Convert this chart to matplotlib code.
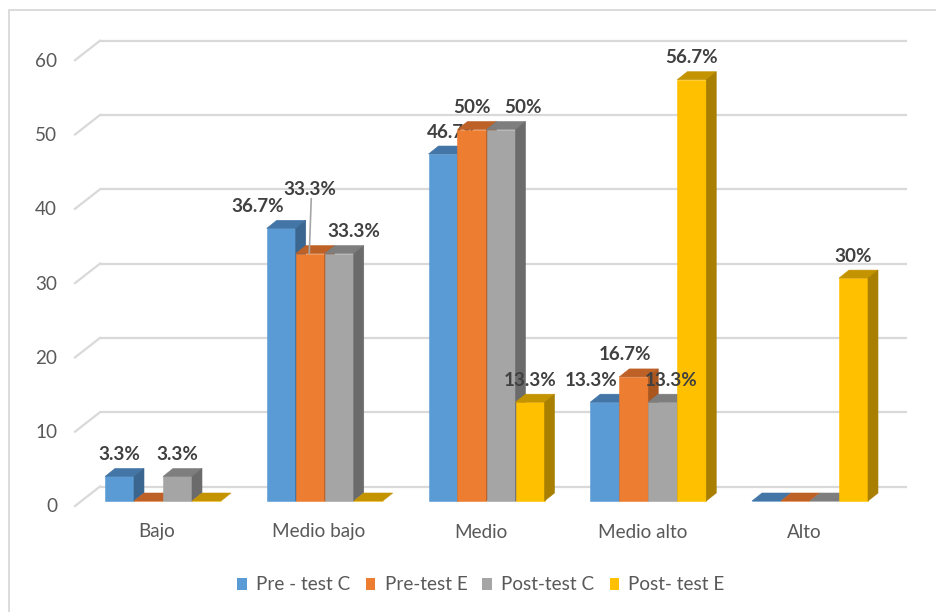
import matplotlib
matplotlib.use("Agg")
import matplotlib.pyplot as plt
import matplotlib.transforms as mtransforms
from matplotlib.patches import Polygon, Rectangle, Patch
import numpy as np

# ---------------- data ----------------
categories = ["Bajo", "Medio bajo", "Medio", "Medio alto", "Alto"]
series_names = ["Pre - test C", "Pre-test E", "Post-test C", "Post- test E"]
pre_test_c = [3.3, 36.7, 46.7, 13.3, 0]
pre_test_e = [0, 33.3, 50, 16.7, 0]
post_test_c = [3.3, 33.3, 50, 13.3, 0]
post_test_e = [0, 0, 13.3, 56.7, 30]
series_values = [pre_test_c, pre_test_e, post_test_c, post_test_e]
y_ticks = [0, 10, 20, 30, 40, 50, 60]

# ---------------- style ----------------
front_colors = ["#5B9BD5", "#ED7D31", "#A5A5A5", "#FFC000"]
top_colors = ["#4375A6", "#BE6126", "#7E7E7E", "#C49400"]
side_colors = ["#3A6690", "#A9561F", "#6B6B6B", "#A87F00"]

# label x nudges in pixels (series, category) to avoid overlap, as in the reference
label_dx = {(0, 1): -24, (2, 1): 15, (0, 2): 10, (2, 2): 22,
            (0, 3): -14, (1, 3): -9, (2, 3): 8}
raised_label = {(1, 1): 64}   # label moved up with a leader line
behind_label = {(0, 2)}       # label partly hidden by the next bar

FONT = "Lato"
FS = 13.6
PX = 161.75   # pixels per category
PY = 7.43     # pixels per value unit
X0 = 163      # pixel x of first category center
Y0 = 501      # pixel y (from top) of bar base
W, H = 936, 612

fig = plt.figure(figsize=(W / 100, H / 100), dpi=100)
ax = fig.add_axes([0, 0, 1, 1])
ax.set_xlim(-X0 / PX, (W - X0) / PX)
ax.set_ylim((Y0 - H) / PY, Y0 / PY)
ax.axis("off")

def off(dx, dy):
    return mtransforms.offset_copy(ax.transData, fig=fig, x=dx, y=dy, units="dots")

grid_c = "#D9D9D9"
back = off(25, 14.5)
x_left = -(X0 - 75) / PX
x_right = (907 - 25 - X0) / PX
for v in y_ticks:
    ax.plot([x_left, x_right], [v, v], color=grid_c, lw=1.6, transform=back, zorder=1,
            solid_capstyle="butt")
    ax.plot([x_left, x_left + 25 / PX], [v, v + 19.5 / PY], color=grid_c, lw=1.6,
            transform=off(0, -5), zorder=1)
    ax.text(x_left - 18 / PX, v, str(v), ha="right", va="center", fontsize=FS,
            color="#595959", family=FONT, transform=off(0, -6))

# ---------------- bars ----------------
bw = 29 / PX
ddx = 10 / PX
ddy = 8 / PY
x = np.arange(len(categories))
for s, vals in enumerate(series_values):
    xs = x + (s - 1.5) * bw
    ax.bar(xs, vals, width=bw, color=front_colors[s], linewidth=0.4,
           edgecolor=front_colors[s], zorder=3 + s * 3)
    for c, (xc, h) in enumerate(zip(xs, vals)):
        x0, x1 = xc - bw / 2, xc + bw / 2
        top = Polygon([(x0, h), (x1, h), (x1 + ddx, h + ddy), (x0 + ddx, h + ddy)],
                      closed=True, facecolor=top_colors[s], edgecolor=top_colors[s],
                      lw=0.4, zorder=4 + s * 3)
        ax.add_patch(top)
        if h > 0:
            side = Polygon([(x1, 0), (x1, h), (x1 + ddx, h + ddy), (x1 + ddx, ddy)],
                           closed=True, facecolor=side_colors[s], edgecolor=side_colors[s],
                           lw=0.4, zorder=4 + s * 3)
            ax.add_patch(side)
        if h > 0:
            dxp = label_dx.get((s, c), 0)
            up = raised_label.get((s, c), 22)
            z = 2 + s * 3 + 1 if (s, c) in behind_label else 30
            ax.text(xc, h, f"{h:g}%", ha="center", va="center", fontsize=FS,
                    fontweight="bold", color="#404040", family=FONT,
                    transform=off(dxp, up), zorder=z)
            if (s, c) in raised_label:
                ax.annotate("", xy=(xc, h), xycoords=off(-1, 0),
                            xytext=(xc, h), textcoords=off(1, up - 9),
                            arrowprops=dict(arrowstyle="-", color="#A6A6A6", lw=1.2,
                                            shrinkA=0, shrinkB=0), zorder=30)

# category labels
for i, cat in enumerate(categories):
    ax.text(i, -31 / PY, cat, ha="center", va="center", fontsize=FS, color="#595959",
            family=FONT, transform=off(-6, 0))

# legend
handles = [Patch(facecolor=front_colors[s], edgecolor="none") for s in range(4)]
leg = fig.legend(handles, series_names, loc="center", bbox_to_anchor=(0.514, 27 / H),
                 ncol=4, frameon=False, handlelength=0.5, handleheight=0.6,
                 handletextpad=0.5, columnspacing=0.8,
                 prop={"family": FONT, "size": FS})
for t in leg.get_texts():
    t.set_color("#595959")

# chart border
fig.patches.append(Rectangle((8.5 / W, -0.05), 1.2, (H - 10) / H + 0.05,
                             transform=fig.transFigure, fill=False,
                             edgecolor="#D9D9D9", lw=1.3))

fig.savefig("out.png", dpi=100)
